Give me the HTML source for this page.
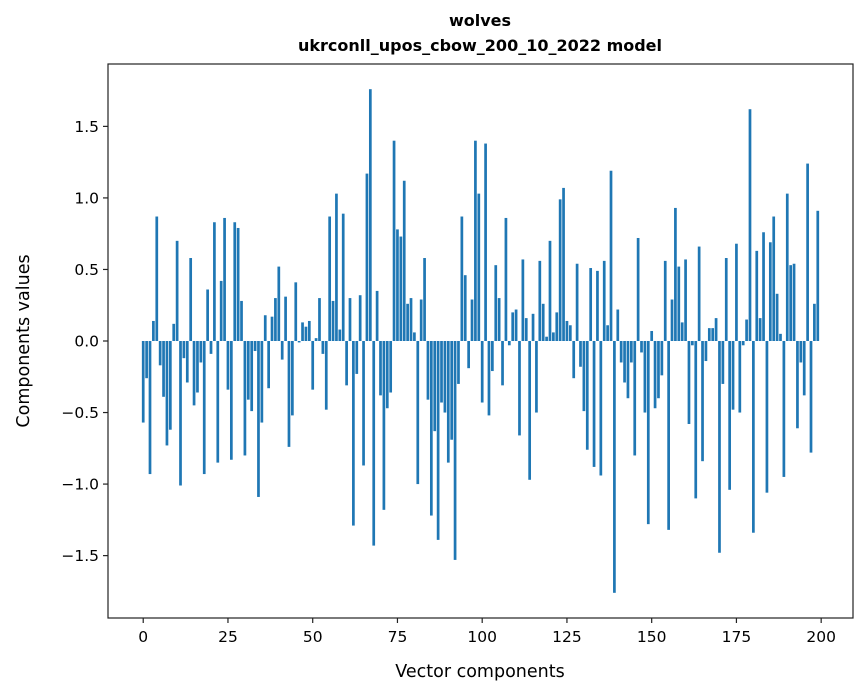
<!DOCTYPE html>
<html><head><meta charset="utf-8"><style>
body{margin:0;background:#fff;}
svg{display:block;}
text{font-family:"DejaVu Sans","Liberation Sans",sans-serif;fill:#000;}
</style></head><body>
<svg id="chart" width="867" height="696" viewBox="0 0 867 696" xmlns="http://www.w3.org/2000/svg">
<rect x="0" y="0" width="867" height="696" fill="#fff"/>
<text x="480" y="26" text-anchor="middle" font-size="16" font-weight="bold">wolves</text>
<text x="480" y="51" text-anchor="middle" font-size="16" font-weight="bold">ukrconll_upos_cbow_200_10_2022 model</text>
<g id="bars"></g>
<g id="xticks"></g>
<g id="yticks"></g>
<rect x="108" y="64" width="745" height="554" fill="none" stroke="#222" stroke-width="1.2"/>
<text x="480" y="677" text-anchor="middle" font-size="17.5">Vector components</text>
<text x="0" y="0" transform="translate(29,341) rotate(-90)" text-anchor="middle" font-size="17.5">Components values</text>
</svg>
<script>
const values = [
-0.57,-0.26,-0.93,0.14,0.87,-0.17,-0.39,-0.73,-0.62,0.12,
0.70,-1.01,-0.12,-0.29,0.58,-0.45,-0.36,-0.15,-0.93,0.36,
-0.09,0.83,-0.85,0.42,0.86,-0.34,-0.83,0.83,0.79,0.28,
-0.80,-0.41,-0.49,-0.07,-1.09,-0.57,0.18,-0.33,0.17,0.30,
0.52,-0.13,0.31,-0.74,-0.52,0.41,-0.01,0.13,0.10,0.14,
-0.34,0.02,0.30,-0.09,-0.48,0.87,0.28,1.03,0.08,0.89,
-0.31,0.30,-1.29,-0.23,0.32,-0.87,1.17,1.76,-1.43,0.35,
-0.38,-1.18,-0.47,-0.36,1.40,0.78,0.73,1.12,0.26,0.30,
0.06,-1.00,0.29,0.58,-0.41,-1.22,-0.63,-1.39,-0.43,-0.50,
-0.85,-0.69,-1.53,-0.30,0.87,0.46,-0.19,0.29,1.40,1.03,
-0.43,1.38,-0.52,-0.21,0.53,0.30,-0.31,0.86,-0.03,0.20,
0.22,-0.66,0.57,0.16,-0.97,0.19,-0.50,0.56,0.26,0.03,
0.70,0.06,0.20,0.99,1.07,0.14,0.11,-0.26,0.54,-0.18,
-0.49,-0.76,0.51,-0.88,0.49,-0.94,0.56,0.11,1.19,-1.76,
0.22,-0.15,-0.29,-0.40,-0.15,-0.80,0.72,-0.08,-0.50,-1.28,
0.07,-0.47,-0.40,-0.24,0.56,-1.32,0.29,0.93,0.52,0.13,
0.57,-0.58,-0.03,-1.10,0.66,-0.84,-0.14,0.09,0.09,0.16,
-1.48,-0.30,0.58,-1.04,-0.48,0.68,-0.50,-0.03,0.15,1.62,
-1.34,0.63,0.16,0.76,-1.06,0.69,0.87,0.33,0.05,-0.95,
1.03,0.53,0.54,-0.61,-0.15,-0.38,1.24,-0.78,0.26,0.91];
const xTicks = [0,25,50,75,100,125,150,175,200];
const yTicks = [-1.5,-1.0,-0.5,0.0,0.5,1.0,1.5];
const yTickLabels = ["\u22121.5","\u22121.0","\u22120.5","0.0","0.5","1.0","1.5"];

const NS="http://www.w3.org/2000/svg";
const L=108,R=853,T=64,B=618;
const n=values.length;
const xmin=-0.4-0.05*(n-0.2), xmax=(n-1)+0.4+0.05*(n-0.2);
let vmax=Math.max(...values), vmin=Math.min(...values);
const span=vmax-vmin;
const ymin=vmin-0.05*span, ymax=vmax+0.05*span;
const xs=v=>L+(v-xmin)/(xmax-xmin)*(R-L);
const ys=v=>B-(v-ymin)/(ymax-ymin)*(B-T);
function mk(tag,attrs,parent){const e=document.createElementNS(NS,tag);for(const k in attrs)e.setAttribute(k,attrs[k]);parent.appendChild(e);return e;}
const gb=document.getElementById('bars');
values.forEach((v,i)=>{
  const x0=xs(i-0.4),x1=xs(i+0.4);
  const y0=ys(Math.max(v,0)),y1=ys(Math.min(v,0));
  const r=mk('rect',{x:x0,y:y0,width:x1-x0,height:Math.max(y1-y0,0.5),fill:'#1f77b4'},gb);
  
  
});
const gx=document.getElementById('xticks');
xTicks.forEach(t=>{
  const x=xs(t);
  const l=mk('line',{x1:x,x2:x,y1:B,y2:B+5,stroke:'#222','stroke-width':1.2},gx);
  
  
  const tx=mk('text',{x:x,y:B+24,'text-anchor':'middle','font-size':'15.5'},gx);
  tx.textContent=t;
  
  
});
const gy=document.getElementById('yticks');
yTicks.forEach((t,i)=>{
  const y=ys(t);
  const l=mk('line',{x1:L-5,x2:L,y1:y,y2:y,stroke:'#222','stroke-width':1.2},gy);
  
  
  const tx=mk('text',{x:L-9,y:y+5.5,'text-anchor':'end','font-size':'15.5'},gy);
  tx.textContent=yTickLabels[i];
  
  
});
</script>
</body></html>
